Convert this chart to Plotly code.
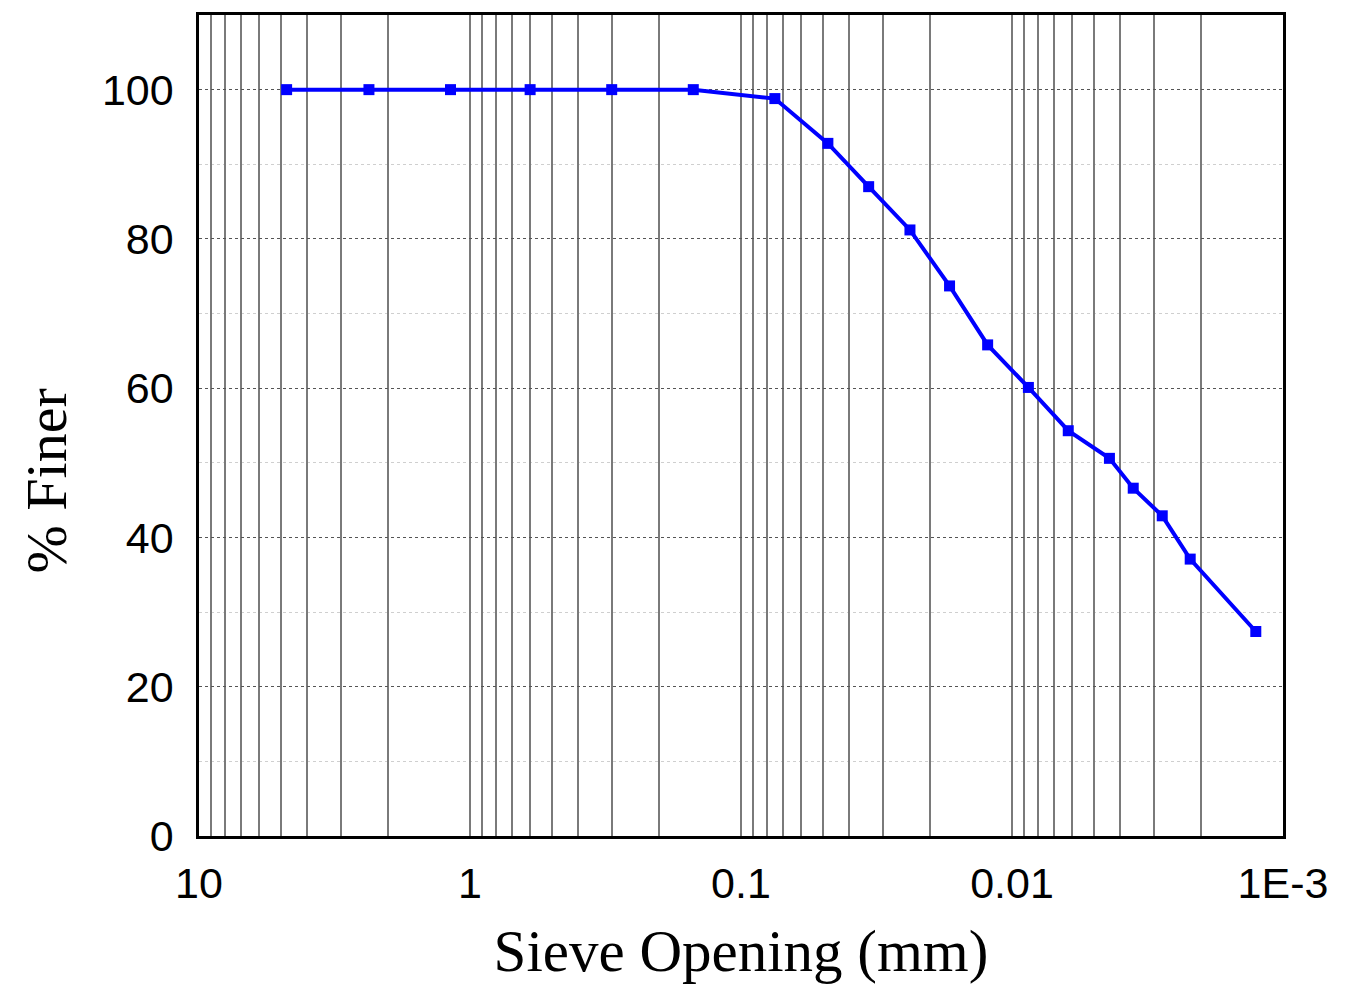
import numpy as np
import plotly.graph_objects as go

# Data
sieve_mm = [4.75, 2.36, 1.18, 0.6, 0.3, 0.15, 0.075, 0.0478, 0.0338, 0.0238,
            0.0170, 0.0123, 0.0087, 0.0062, 0.00437, 0.00357, 0.00279, 0.0022, 0.00126]
pct_finer = [100, 100, 100, 100, 100, 100, 98.8, 92.8, 87.0, 81.2,
             73.7, 65.8, 60.1, 54.3, 50.6, 46.6, 42.9, 37.1, 27.4]

decade_vals = [10, 1, 0.1, 0.01, 0.001]
decade_text = ["10", "1", "0.1", "0.01", "1E-3"]

# grid positions 1..9 x each decade
grid_vals = []
grid_text = []
for d in [1, 0.1, 0.01, 0.001]:
    for k in range(1, 10):
        v = round(k * d, 6)
        grid_vals.append(v)
        grid_text.append(decade_text[decade_vals.index(d)] if k == 1 else "")
grid_vals.append(10)
grid_text.append("10")

fig = go.Figure()
fig.add_trace(go.Scatter(
    x=sieve_mm, y=pct_finer, mode="lines+markers",
    line=dict(color="#0000ff", width=4),
    marker=dict(symbol="square", size=11, color="#0000ff"),
    showlegend=False,
))

fig.update_layout(
    width=1340, height=984,
    margin=dict(l=191, r=65, t=4, b=156),
    paper_bgcolor="white", plot_bgcolor="white",
    font=dict(family="Liberation Sans, Arial", color="black"),
    annotations=[dict(
        text="% Finer", textangle=-90, showarrow=False,
        xref="paper", yref="paper", x=-0.141, y=0.432,
        xanchor="center", yanchor="middle",
        font=dict(size=58, family="Liberation Serif, Times New Roman", color="black"),
    )],
)
fig.update_xaxes(
    type="log", range=[1, -3],
    tickmode="array", tickvals=grid_vals, ticktext=grid_text,
    showgrid=True, gridcolor="#7a7a7a", gridwidth=1.6,
    showline=True, linecolor="black", linewidth=2.5, mirror=True,
    ticks="", tickfont=dict(size=43, family="Liberation Sans, Arial"),
    ticklabelstandoff=8,
    title=dict(text="Sieve Opening (mm)",
               font=dict(size=59, family="Liberation Serif, Times New Roman"),
               standoff=24),
    zeroline=False,
)
fig.update_yaxes(
    range=[0, 110], tickmode="linear", tick0=0, dtick=20,
    showgrid=True, gridcolor="#555555", gridwidth=1.3, griddash="dot",
    minor=dict(tick0=0, dtick=10, showgrid=True, gridcolor="#cfcfcf", gridwidth=1),
    showline=True, linecolor="black", linewidth=2.5, mirror=True,
    ticks="", tickfont=dict(size=43, family="Liberation Sans, Arial"),
    ticklabelstandoff=14,
    zeroline=False,
)

fig.write_html("out.html")
